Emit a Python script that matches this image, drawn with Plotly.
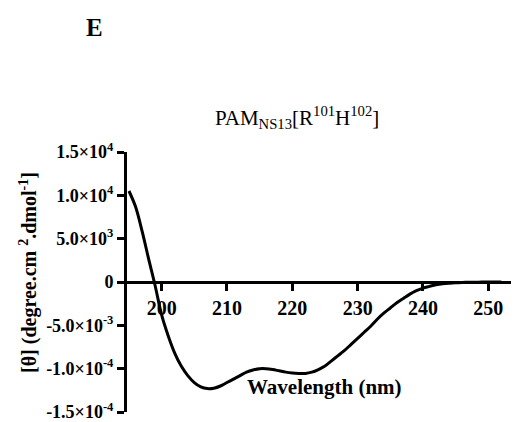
import plotly.graph_objects as go

wavelength = list(range(195, 253))
theta = [10500, 8700, 5900, 2700, -400, -3800, -6200, -8200, -9700, -10800,
         -11600, -12100, -12300, -12250, -12000, -11600, -11200, -10800, -10400, -10150,
         -10000, -10000, -10100, -10250, -10400, -10500, -10550, -10550, -10400, -10100,
         -9700, -9100, -8500, -7900, -7200, -6500, -5800, -5100, -4300, -3600,
         -3000, -2400, -1900, -1400, -1000, -700, -500, -320, -200, -130,
         -80, -50, -30, -20, -10, 0, 0, 0]

y_tickvals = [15000, 10000, 5000, 0, -5000, -10000, -15000]
y_ticktext = ["1.5×10<sup>4</sup>", "1.0×10<sup>4</sup>", "5.0×10<sup>3</sup>", "0",
              "-5.0×10<sup>-3</sup>", "-1.0×10<sup>-4</sup>", "-1.5×10<sup>-4</sup>"]
x_tickvals = [200, 210, 220, 230, 240, 250]
x_ticktext = ["200", "210", "220", "230", "240", "250"]

FONT = "Liberation Serif"
OFF = 8  # page body offset

fig = go.Figure()
fig.add_trace(go.Scatter(x=wavelength, y=theta, mode="lines",
                         line=dict(color="black", width=3, shape="spline"),
                         showlegend=False, hoverinfo="skip", cliponaxis=False))

fig.update_layout(
    width=519 - OFF, height=422 - OFF,
    margin=dict(l=127 - OFF, r=0, t=152 - OFF, b=10),
    paper_bgcolor="white", plot_bgcolor="white",
    font=dict(family=FONT, color="black"),
    xaxis=dict(range=[194.7, 254.7], anchor="free", position=0.5, automargin=False,
               showline=True, linecolor="black", linewidth=3,
               ticks="outside", ticklen=7, tickwidth=3, tickcolor="black",
               tickvals=x_tickvals, ticktext=x_ticktext, ticklabeloverflow="allow",
               tickfont=dict(family=FONT, size=20, color="black", weight="bold"),
               showgrid=False, zeroline=False),
    yaxis=dict(range=[-15000, 15000], automargin=False,
               showline=True, linecolor="black", linewidth=3,
               ticks="outside", ticklen=7, tickwidth=3, tickcolor="black",
               tickvals=y_tickvals, ticktext=y_ticktext, ticklabeloverflow="allow",
               tickfont=dict(family=FONT, size=18, color="black", weight="bold"),
               showgrid=False, zeroline=False),
    annotations=[
        dict(text="<b>E</b>", xref="paper", yref="paper", x=(94-127)/392, y=(412-28)/260,
             xanchor="center", yanchor="middle", showarrow=False,
             font=dict(family=FONT, size=25, color="black")),
        dict(text="PAM<sub>NS13</sub>[R<sup>101</sup>H<sup>102</sup>]", xref="paper", yref="paper",
             x=(297-127)/392, y=(412-117)/260, xanchor="center", yanchor="middle", showarrow=False,
             font=dict(family=FONT, size=21, color="black")),
        dict(text="<b>Wavelength (nm)</b>", xref="paper", yref="paper",
             x=(324-127)/392, y=(412-387)/260, xanchor="center", yanchor="middle", showarrow=False,
             font=dict(family=FONT, size=21, color="black")),
        dict(text="<b>[θ] (degree.cm <sup>2</sup>.dmol<sup>-1</sup>]</b>", xref="paper", yref="paper",
             x=(28-127)/392, y=(412-273)/260, xanchor="center", yanchor="middle", showarrow=False,
             textangle=-90, font=dict(family=FONT, size=20, color="black")),
    ],
)

fig.write_html("out.html")
